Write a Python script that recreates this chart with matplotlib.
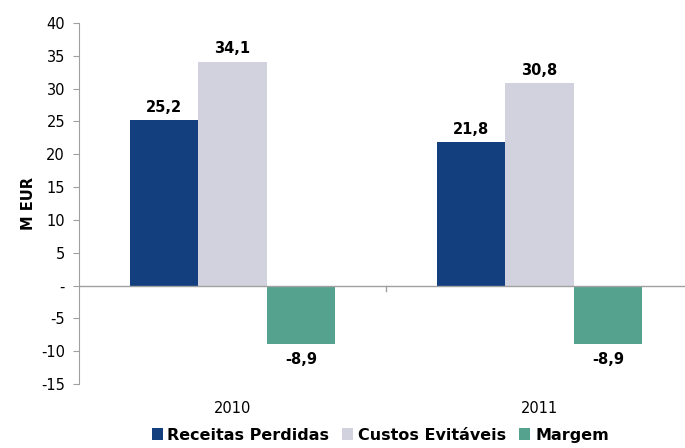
import numpy as np
import matplotlib.pyplot as plt

years = ["2010", "2011"]
series = ["Receitas Perdidas", "Custos Evitáveis", "Margem"]
receitas = [25.2, 21.8]
custos = [34.1, 30.8]
margem = [-8.9, -8.9]
colors = ["#133F7F", "#D1D2DD", "#55A28F"]
yticks = [-15, -10, -5, 0, 5, 10, 15, 20, 25, 30, 35, 40]
ytick_labels = ["-15", "-10", "-5", "-", "5", "10", "15", "20", "25", "30", "35", "40"]

plt.rcParams['font.family'] = ['DejaVu Sans']

fig = plt.figure(figsize=(6.85, 4.48), dpi=100)
ax = fig.add_axes([79 / 685, 64 / 448, 614 / 685, 361 / 448])

x = np.arange(len(years))
w = 0.223
for i, (name, vals) in enumerate(zip(series, [receitas, custos, margem])):
    bars = ax.bar(x + (i - 1) * w, vals, w, color=colors[i], label=name, zorder=2)
    for b, v in zip(bars, vals):
        txt = f"{v:.1f}".replace(".", ",")
        if v >= 0:
            ax.annotate(txt, (b.get_x() + b.get_width() / 2, v), xytext=(0, 4),
                        textcoords="offset points", ha="center", va="bottom",
                        fontsize=10.5, fontweight="bold")
        else:
            ax.annotate(txt, (b.get_x() + b.get_width() / 2, v), xytext=(0, -6),
                        textcoords="offset points", ha="center", va="top",
                        fontsize=10.5, fontweight="bold")

ax.set_xlim(-0.5, 1.5)
ax.set_ylim(-15, 40)
ax.set_yticks(yticks)
ax.set_yticklabels(ytick_labels, fontsize=10.5)
ax.set_xticks(x)
ax.set_xticklabels(years, fontsize=10.5)
ax.tick_params(axis="x", length=0, pad=12)
ax.tick_params(axis="y", length=4, color="#A0A0A0", pad=6)

# tick mark between categories on the zero line
ax.plot([0.5, 0.5], [0, -0.8], color="#A0A0A0", lw=1, clip_on=False, zorder=3)
ax.axhline(0, color="#A0A0A0", lw=1, zorder=3)

for s in ["top", "right", "bottom"]:
    ax.spines[s].set_visible(False)
ax.spines["left"].set_color("#A0A0A0")

ax.set_ylabel("M EUR", fontsize=10.5, fontweight="bold", labelpad=4)

leg = fig.legend(loc="lower center", bbox_to_anchor=(0.555, -0.02), ncol=3, frameon=False,
                 prop={"weight": "bold", "size": 11.5}, handlelength=0.7, handleheight=0.7,
                 handletextpad=0.3, columnspacing=0.8)

fig.savefig("out.png", dpi=100)
